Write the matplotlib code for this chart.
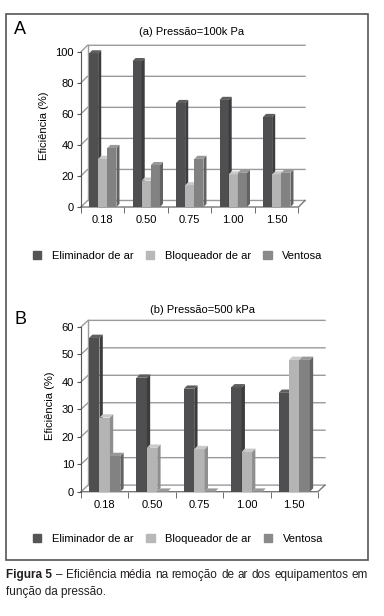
import numpy as np
import matplotlib
matplotlib.use("Agg")
import matplotlib.pyplot as plt
from matplotlib.patches import Patch, Rectangle

plt.rcParams['font.family'] = ['Liberation Sans', 'DejaVu Sans']

categories = ['0.18', '0.50', '0.75', '1.00', '1.50']
series = ['Eliminador de ar', 'Bloqueador de ar', 'Ventosa']

a_elim = [99, 94, 67, 69, 58]
a_bloq = [31, 17, 14, 21, 21]
a_vent = [38, 27, 31, 22, 22]

b_elim = [56, 41.5, 37.5, 38, 36]
b_bloq = [27, 16, 15.5, 14.5, 48]
b_vent = [13, 0, 0, 0, 48]

front = ['#4f4f51', '#b4b4b4', '#828282']
side = ['#3c3c3e', '#8e8e8e', '#626262']
topc = ['#5e5e60', '#c9c9c9', '#999999']
grid = '#9a9a9a'
W, H = 384, 616
FS = 8


def panel(ax, vals, top, step, wall_dy, bar_dy, w):
    x = np.arange(len(categories))
    x0, x1 = -0.5, len(categories) - 0.5
    wall_dx = 0.15
    bar_dx = 0.07
    ticks = np.arange(0, top + 1, step)
    # back wall + left wall gridlines
    for t in ticks:
        ax.plot([x0, x0 + wall_dx, x1 + wall_dx], [t, t + wall_dy, t + wall_dy],
                color=grid, lw=1.0, zorder=1, clip_on=False)
    ax.plot([x0 + wall_dx] * 2, [wall_dy, top + wall_dy], color=grid, lw=1.0, zorder=1, clip_on=False)
    ax.plot([x0, x1, x1 + wall_dx], [0, 0, wall_dy], color='#777777', lw=1.0, zorder=1.5, clip_on=False)
    for i, v in enumerate(vals):
        xs = x + (i - 1) * w
        ax.bar(xs, v, w, color=front[i], zorder=3 + i, clip_on=False)
        for xc, h in zip(xs, v):
            l, r = xc - w / 2, xc + w / 2
            ax.fill([r, r + bar_dx, r + bar_dx, r], [0, bar_dy, h + bar_dy, h],
                    color=side[i], zorder=3 + i, clip_on=False, lw=0)
            ax.fill([l, l + bar_dx, r + bar_dx, r], [h, h + bar_dy, h + bar_dy, h],
                    color=topc[i], zorder=3 + i, clip_on=False, lw=0)
    ax.set_xlim(x0, x1 + wall_dx)
    ax.set_ylim(0, top + wall_dy + 0.5)
    for s in ['top', 'right', 'bottom']:
        ax.spines[s].set_visible(False)
    ax.spines['left'].set_bounds(0, top)
    ax.spines['left'].set_color('#555555')
    ax.set_yticks(ticks)
    ax.set_xticks(x, categories)
    ax.set_xticks(np.arange(x0, x1 + 0.01), minor=True)
    ax.tick_params(axis='y', length=3, color='#555555', labelsize=FS, pad=2)
    ax.tick_params(axis='x', which='major', length=0, labelsize=FS, pad=6)
    ax.tick_params(axis='x', which='minor', length=4, color='#555555')
    ax.set_ylabel('Eficiência (%)', fontsize=FS, labelpad=5)


fig = plt.figure(figsize=(W / 100, H / 100), dpi=100)

axA = fig.add_axes([81 / W, 1 - 207 / H, 224 / W, 162.5 / H])
panel(axA, [a_elim, a_bloq, a_vent], 100, 20, 4.2, 2.0, 0.21)
axB = fig.add_axes([81 / W, 1 - 491.7 / H, 244 / W, 172.7 / H])
panel(axB, [b_elim, b_bloq, b_vent], 60, 10, 2.4, 1.2, 0.22)

fig.text(192 / W, 1 - 32 / H, '(a) Pressão=100k Pa', ha='center', va='center', fontsize=FS)
fig.text(202 / W, 1 - 310 / H, '(b) Pressão=500 kPa', ha='center', va='center', fontsize=FS)
fig.text(14 / W, 1 - 30 / H, 'A', ha='left', va='center', fontsize=13)
fig.text(14 / W, 1 - 320 / H, 'B', ha='left', va='center', fontsize=13)

handles = [Patch(color=c) for c in ['#555557', '#b8b8b8', '#8a8a8a']]
for yc, cs in [(255.7, 1.12), (539, 1.15)]:
    fig.legend(handles, series, loc='center left', bbox_to_anchor=(33 / W, 1 - yc / H),
               ncol=3, frameon=False, fontsize=FS, handlelength=0.75, handleheight=0.75,
               handletextpad=0.95, columnspacing=cs, borderaxespad=0, borderpad=0)

fig.patches.append(Rectangle((6 / W, 1 - 560 / H), 362 / W, 546 / H, transform=fig.transFigure,
                             fill=False, ec='#555555', lw=1.2))

# caption, justified on first line
cap_font = ['Liberation Sans Narrow', 'Liberation Sans', 'DejaVu Sans']
words = ['Figura 5', '–', 'Eficiência', 'média', 'na', 'remoção', 'de', 'ar', 'dos', 'equipamentos', 'em']
fig.canvas.draw()
rend = fig.canvas.get_renderer()
texts = []
for k, wd in enumerate(words):
    t = fig.text(0, 1 - 578 / H, wd, fontsize=8.5, family=cap_font, color='#231f20',
                 fontweight='bold' if k == 0 else 'normal', va='baseline')
    texts.append(t)
widths = [t.get_window_extent(rend).width for t in texts]
gap = (362 - sum(widths)) / (len(words) - 1)
xpos = 6
for t, wd in zip(texts, widths):
    t.set_x(xpos / W)
    xpos += wd + gap
fig.text(6 / W, 1 - 595 / H, 'função da pressão.', fontsize=8.5, family=cap_font,
         color='#231f20', va='baseline')

fig.savefig('out.png', dpi=100)
